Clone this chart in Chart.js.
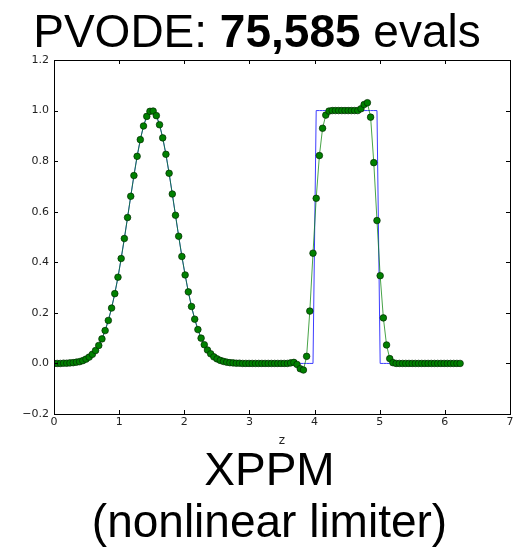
<!DOCTYPE html>
<html>
<head>
<meta charset="utf-8">
<script src="https://cdn.jsdelivr.net/npm/chart.js@4"></script>
<style>
  body { margin: 0; background: #fff; }
  #wrap { position: relative; width: 529px; height: 555px; }
  .big { position: absolute; font-family: "Liberation Sans", Arial, sans-serif; font-size: 46px; line-height: 46px; color: #000; text-align: center; white-space: nowrap; }
  .zlab { position: absolute; font-family: "DejaVu Sans", sans-serif; font-size: 12px; line-height: 12px; color: #222; text-align: center; }
</style>
</head>
<body>
<div id="wrap">
  <canvas id="plot" width="529" height="555"></canvas>
  <div class="big" style="left:0; width:514px; top:8px;">PVODE: <b>75,585</b> evals</div>
  <div class="zlab" style="left:272px; width:20px; top:434px;">z</div>
  <div class="big" style="left:5px; width:529px; top:446px;">XPPM</div>
  <div class="big" style="left:5px; width:529px; top:498px;">(nonlinear limiter)</div>
</div>
<script>
// grid points z
const z = [
  0.000, 0.049, 0.098, 0.147, 0.196, 0.245, 0.295, 0.344, 0.393, 0.442,
  0.491, 0.540, 0.589, 0.638, 0.687, 0.736, 0.785, 0.834, 0.884, 0.933,
  0.982, 1.031, 1.080, 1.129, 1.178, 1.227, 1.276, 1.325, 1.374, 1.424,
  1.473, 1.522, 1.571, 1.620, 1.669, 1.718, 1.767, 1.816, 1.865, 1.914,
  1.963, 2.013, 2.062, 2.111, 2.160, 2.209, 2.258, 2.307, 2.356, 2.405,
  2.454, 2.503, 2.553, 2.602, 2.651, 2.700, 2.749, 2.798, 2.847, 2.896,
  2.945, 2.994, 3.043, 3.093, 3.142, 3.191, 3.240, 3.289, 3.338, 3.387,
  3.436, 3.485, 3.534, 3.583, 3.632, 3.682, 3.731, 3.780, 3.829, 3.878,
  3.927, 3.976, 4.025, 4.074, 4.123, 4.172, 4.222, 4.271, 4.320, 4.369,
  4.418, 4.467, 4.516, 4.565, 4.614, 4.663, 4.712, 4.761, 4.811, 4.860,
  4.909, 4.958, 5.007, 5.056, 5.105, 5.154, 5.203, 5.252, 5.301, 5.351,
  5.400, 5.449, 5.498, 5.547, 5.596, 5.645, 5.694, 5.743, 5.792, 5.841,
  5.890, 5.940, 5.989, 6.038, 6.087, 6.136, 6.185, 6.234
];

// numerical solution (green dots)
const computed = [
  0.000, 0.000, 0.000, 0.001, 0.001, 0.002, 0.003, 0.005, 0.007, 0.011,
  0.017, 0.025, 0.036, 0.051, 0.071, 0.097, 0.130, 0.170, 0.219, 0.276,
  0.341, 0.415, 0.494, 0.577, 0.661, 0.743, 0.819, 0.885, 0.939, 0.977,
  0.997, 0.998, 0.980, 0.944, 0.892, 0.827, 0.752, 0.670, 0.586, 0.503,
  0.423, 0.350, 0.283, 0.225, 0.175, 0.134, 0.100, 0.074, 0.053, 0.038,
  0.026, 0.018, 0.012, 0.008, 0.005, 0.003, 0.002, 0.001, 0.001, 0.000,
  0.000, 0.000, 0.000, 0.000, 0.000, 0.000, 0.000, 0.000, 0.000, 0.000,
  0.000, 0.000, 0.000, 0.000, 0.002, 0.004, -0.004, -0.021, -0.026, 0.028,
  0.207, 0.436, 0.653, 0.822, 0.930, 0.982, 0.998, 1.000, 1.000, 1.000,
  1.000, 1.000, 1.000, 1.000, 1.000, 1.000, 1.007, 1.024, 1.031, 0.974,
  0.794, 0.565, 0.347, 0.180, 0.073, 0.019, 0.003, 0.000, 0.000, 0.000,
  0.000, 0.000, 0.000, 0.000, 0.000, 0.000, 0.000, 0.000, 0.000, 0.000,
  0.000, 0.000, 0.000, 0.000, 0.000, 0.000, 0.000, 0.000
];

// exact solution (blue line)
const exact = [
  0.000, 0.000, 0.000, 0.001, 0.001, 0.002, 0.003, 0.005, 0.007, 0.011,
  0.017, 0.025, 0.036, 0.051, 0.071, 0.097, 0.130, 0.170, 0.219, 0.276,
  0.341, 0.415, 0.494, 0.577, 0.661, 0.743, 0.819, 0.885, 0.939, 0.977,
  0.997, 0.998, 0.980, 0.944, 0.892, 0.827, 0.752, 0.670, 0.586, 0.503,
  0.423, 0.350, 0.283, 0.225, 0.175, 0.134, 0.100, 0.074, 0.053, 0.038,
  0.026, 0.018, 0.012, 0.008, 0.005, 0.003, 0.002, 0.001, 0.001, 0.000,
  0, 0, 0, 0, 0, 0, 0, 0, 0, 0,
  0, 0, 0, 0, 0, 0, 0, 0, 0, 0,
  0, 0, 1, 1, 1, 1, 1, 1, 1, 1,
  1, 1, 1, 1, 1, 1, 1, 1, 1, 1,
  1, 1, 0, 0, 0, 0, 0, 0, 0, 0,
  0, 0, 0, 0, 0, 0, 0, 0, 0, 0,
  0, 0, 0, 0, 0, 0, 0, 0
];

const tickFont = { family: 'DejaVu Sans', size: 11 };

// matplotlib style box with inward ticks on every side
const frameTicks = {
  id: 'frameTicks',
  afterDatasetsDraw(chart) {
    const { ctx, chartArea: a, scales: { x, y } } = chart;
    const len = 4;
    ctx.save();
    ctx.strokeStyle = '#000';
    ctx.lineWidth = 1;
    ctx.beginPath();
    x.ticks.forEach(t => {
      const px = Math.round(x.getPixelForValue(t.value)) + 0.5;
      ctx.moveTo(px, a.bottom); ctx.lineTo(px, a.bottom - len);
      ctx.moveTo(px, a.top); ctx.lineTo(px, a.top + len);
    });
    y.ticks.forEach(t => {
      const py = Math.round(y.getPixelForValue(t.value)) + 0.5;
      ctx.moveTo(a.left, py); ctx.lineTo(a.left + len, py);
      ctx.moveTo(a.right, py); ctx.lineTo(a.right - len, py);
    });
    ctx.stroke();
    ctx.strokeRect(a.left + 0.5, a.top + 0.5, a.right - a.left, a.bottom - a.top);
    ctx.restore();
  }
};

new Chart(document.getElementById('plot'), {
  type: 'line',
  data: {
    datasets: [
      {
        data: z.map((v, i) => ({ x: v, y: computed[i] })),
        borderColor: 'rgba(0,128,0,0.72)',
        borderWidth: 1,
        pointRadius: 3.3,
        pointBackgroundColor: '#008000',
        pointBorderColor: '#002a00',
        pointBorderWidth: 0.7,
        tension: 0
      },
      {
        data: z.map((v, i) => ({ x: v, y: exact[i] })),
        borderColor: '#3c3cff',
        borderWidth: 1,
        pointRadius: 0,
        tension: 0
      }
    ]
  },
  options: {
    responsive: false,
    animation: false,
    devicePixelRatio: 1,
    layout: { padding: { left: 0, top: 60, right: 19, bottom: 0 } },
    plugins: { legend: { display: false }, tooltip: { enabled: false } },
    scales: {
      x: {
        type: 'linear',
        min: 0,
        max: 7,
        grid: { display: false, drawTicks: false },
        border: { display: false },
        ticks: { stepSize: 1, padding: 2, color: '#222', font: tickFont, maxRotation: 0, autoSkip: false },
        afterFit: (s) => { s.height = 141; }
      },
      y: {
        min: -0.2,
        max: 1.2,
        grid: { display: false, drawTicks: false },
        border: { display: false },
        ticks: {
          stepSize: 0.2,
          padding: 5,
          color: '#222',
          font: tickFont,
          callback: (v) => Math.abs(v) < 1e-9 ? '0.0' : (v < 0 ? '\u2212' : '') + Math.abs(v).toFixed(1)
        },
        afterFit: (s) => { s.width = 54; }
      }
    }
  },
  plugins: [frameTicks]
});
</script>
</body>
</html>
